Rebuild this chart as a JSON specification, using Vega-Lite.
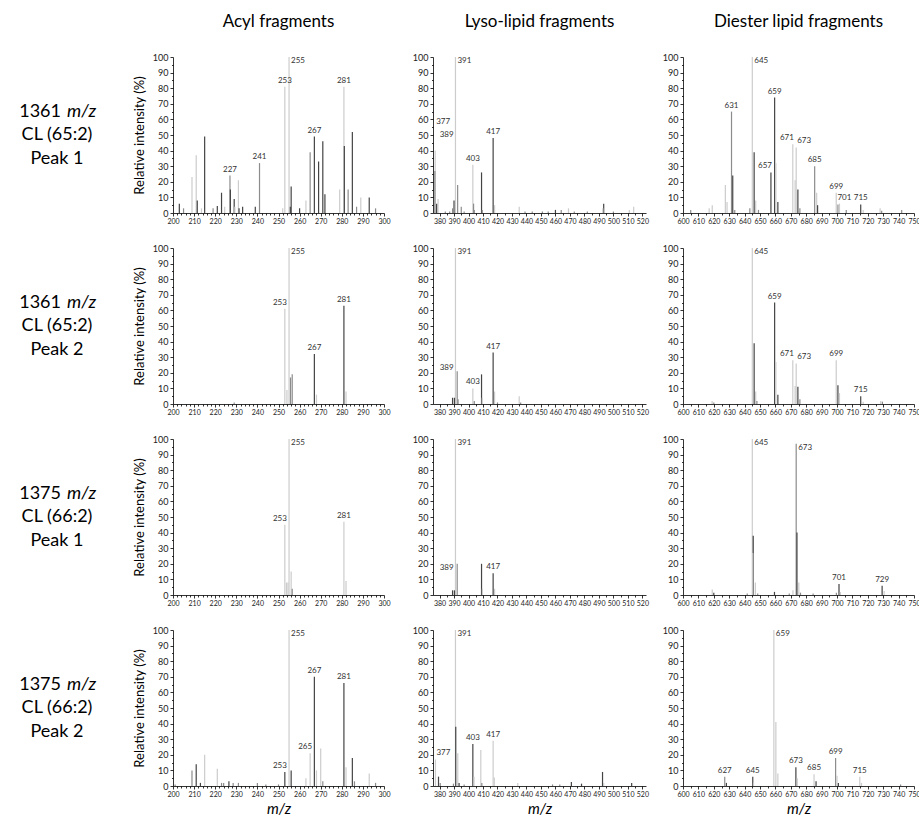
{
"$schema": "https://vega.github.io/schema/vega-lite/v6.json",
"autosize": {"type": "pad"},
"padding": {"left": 0, "top": 13, "right": 0, "bottom": 0},
"background": "white",
"datasets": {
"a1": [{"mz":203,"i":6,"s":"D"},{"mz":205,"i":3,"s":"M"},{"mz":209,"i":23,"s":"L"},{"mz":211,"i":37,"s":"L"},{"mz":211.5,"i":8,"s":"D"},{"mz":213.5,"i":3,"s":"L"},{"mz":215,"i":49,"s":"D"},{"mz":219,"i":3,"s":"M"},{"mz":221,"i":4.5,"s":"D"},{"mz":223,"i":13,"s":"D"},{"mz":224.5,"i":4,"s":"L"},{"mz":227,"i":24,"s":"M","label":"227"},{"mz":227.2,"i":15,"s":"D"},{"mz":229,"i":9,"s":"D"},{"mz":229.3,"i":4,"s":"L"},{"mz":231,"i":21,"s":"L"},{"mz":231.3,"i":3,"s":"D"},{"mz":233,"i":4,"s":"D"},{"mz":239,"i":4,"s":"D"},{"mz":241,"i":32,"s":"M","label":"241"},{"mz":252,"i":3,"s":"L"},{"mz":253,"i":81,"s":"L","label":"253"},{"mz":255,"i":100,"s":"L","label":"255"},{"mz":255.6,"i":4,"s":"D"},{"mz":256,"i":17,"s":"D"},{"mz":260,"i":3,"s":"D"},{"mz":263,"i":8,"s":"L"},{"mz":265,"i":39,"s":"M"},{"mz":267,"i":49,"s":"D","label":"267"},{"mz":269,"i":33,"s":"D"},{"mz":271,"i":46,"s":"D"},{"mz":272,"i":12,"s":"D"},{"mz":279,"i":15,"s":"L"},{"mz":281,"i":81,"s":"L","label":"281"},{"mz":281.2,"i":43,"s":"D"},{"mz":283,"i":15,"s":"M"},{"mz":285,"i":52,"s":"D"},{"mz":287,"i":4,"s":"M"},{"mz":289,"i":10,"s":"L"},{"mz":293,"i":10,"s":"D"},{"mz":296,"i":3,"s":"M"}],
"b1": [{"mz":376.8,"i":27,"s":"M"},{"mz":377,"i":40,"s":"L","label":"377"},{"mz":378,"i":6,"s":"D"},{"mz":379,"i":9,"s":"L"},{"mz":384,"i":1,"s":"M"},{"mz":387,"i":1,"s":"M"},{"mz":389,"i":3,"s":"M","label":"389"},{"mz":390,"i":8,"s":"D"},{"mz":391,"i":100,"s":"L","label":"391"},{"mz":392.5,"i":18,"s":"M"},{"mz":395,"i":4,"s":"M"},{"mz":397,"i":1,"s":"M"},{"mz":403,"i":31,"s":"L","label":"403"},{"mz":403.5,"i":6,"s":"M"},{"mz":404,"i":2,"s":"M"},{"mz":409,"i":26,"s":"D"},{"mz":409.5,"i":2,"s":"M"},{"mz":417,"i":48,"s":"D","label":"417"},{"mz":418,"i":5,"s":"L"},{"mz":435,"i":4,"s":"L"},{"mz":439,"i":1,"s":"M"},{"mz":444,"i":1,"s":"M"},{"mz":451,"i":1,"s":"M"},{"mz":455,"i":1,"s":"M"},{"mz":460,"i":2,"s":"D"},{"mz":464,"i":2,"s":"M"},{"mz":469,"i":3,"s":"L"},{"mz":473,"i":1,"s":"M"},{"mz":482,"i":1,"s":"M"},{"mz":493,"i":3,"s":"M"},{"mz":493.3,"i":6,"s":"D"},{"mz":500,"i":1,"s":"M"},{"mz":511,"i":2,"s":"L"},{"mz":514,"i":4,"s":"L"}],
"c1": [{"mz":605,"i":2,"s":"M"},{"mz":617,"i":3,"s":"L"},{"mz":619,"i":5,"s":"L"},{"mz":627.5,"i":18,"s":"L"},{"mz":628.6,"i":7,"s":"L"},{"mz":631.5,"i":65,"s":"M","label":"631"},{"mz":632.3,"i":24,"s":"D"},{"mz":633.6,"i":2,"s":"M"},{"mz":643.4,"i":3,"s":"M"},{"mz":645,"i":100,"s":"L","label":"645"},{"mz":646.2,"i":39,"s":"D"},{"mz":647.2,"i":8,"s":"L"},{"mz":649,"i":2,"s":"M"},{"mz":657.1,"i":26,"s":"D","label":"657"},{"mz":659.5,"i":74,"s":"D","label":"659"},{"mz":660.3,"i":32,"s":"L"},{"mz":661.6,"i":7,"s":"D"},{"mz":671.3,"i":44,"s":"L","label":"671"},{"mz":672.8,"i":21,"s":"L"},{"mz":673.5,"i":42,"s":"L","label":"673"},{"mz":674.6,"i":15,"s":"D"},{"mz":675.9,"i":3,"s":"M"},{"mz":685.5,"i":30,"s":"M","label":"685"},{"mz":686.8,"i":13,"s":"L"},{"mz":687.4,"i":5,"s":"D"},{"mz":699.5,"i":13,"s":"L","label":"699"},{"mz":700.6,"i":5.5,"s":"M"},{"mz":701.6,"i":6,"s":"L","label":"701"},{"mz":706,"i":2,"s":"M"},{"mz":715.4,"i":5.5,"s":"D","label":"715"},{"mz":717,"i":2,"s":"L"},{"mz":728,"i":3,"s":"L"},{"mz":729,"i":1.5,"s":"M"},{"mz":742,"i":2,"s":"M"}],
"a2": [{"mz":229,"i":1,"s":"M"},{"mz":253,"i":61,"s":"L","label":"253"},{"mz":254,"i":9,"s":"L"},{"mz":255,"i":100,"s":"L","label":"255"},{"mz":255.7,"i":17,"s":"M"},{"mz":256.5,"i":19,"s":"M"},{"mz":267,"i":32,"s":"D","label":"267"},{"mz":268,"i":6,"s":"L"},{"mz":281,"i":63,"s":"D","label":"281"},{"mz":282,"i":8,"s":"L"}],
"b2": [{"mz":389,"i":4,"s":"D","label":"389"},{"mz":390.3,"i":4,"s":"D"},{"mz":391,"i":100,"s":"L","label":"391"},{"mz":392.2,"i":21,"s":"M"},{"mz":392.8,"i":3,"s":"M"},{"mz":403,"i":10,"s":"L","label":"403"},{"mz":404,"i":2,"s":"M"},{"mz":409,"i":19,"s":"D"},{"mz":409.5,"i":4,"s":"L"},{"mz":417,"i":33,"s":"D","label":"417"},{"mz":418,"i":8,"s":"L"},{"mz":420,"i":1,"s":"M"},{"mz":435,"i":5,"s":"L"},{"mz":436,"i":1,"s":"M"}],
"c2": [{"mz":618.9,"i":2,"s":"L"},{"mz":620,"i":1,"s":"M"},{"mz":645,"i":100,"s":"L","label":"645"},{"mz":646.2,"i":39,"s":"D"},{"mz":647.2,"i":8,"s":"L"},{"mz":648,"i":2,"s":"M"},{"mz":659.5,"i":65,"s":"D","label":"659"},{"mz":660.3,"i":27,"s":"L"},{"mz":661.6,"i":6,"s":"D"},{"mz":671.3,"i":28,"s":"L","label":"671"},{"mz":672.8,"i":11.5,"s":"L"},{"mz":673.5,"i":26,"s":"L","label":"673"},{"mz":674.6,"i":11,"s":"D"},{"mz":675.9,"i":3,"s":"M"},{"mz":699.5,"i":28,"s":"L","label":"699"},{"mz":700.6,"i":12,"s":"D"},{"mz":701.6,"i":7,"s":"L"},{"mz":715.4,"i":5,"s":"D","label":"715"},{"mz":717,"i":1.5,"s":"L"},{"mz":728.4,"i":2,"s":"L"},{"mz":729.5,"i":1.5,"s":"M"}],
"a3": [{"mz":253,"i":45,"s":"L","label":"253"},{"mz":253.8,"i":8,"s":"L"},{"mz":254.5,"i":8,"s":"L"},{"mz":255,"i":100,"s":"L","label":"255"},{"mz":256,"i":15,"s":"L"},{"mz":256.5,"i":4,"s":"M"},{"mz":281,"i":47,"s":"L","label":"281"},{"mz":282,"i":9,"s":"L"}],
"b3": [{"mz":389,"i":3,"s":"D","label":"389"},{"mz":390.3,"i":3,"s":"D"},{"mz":391,"i":100,"s":"L","label":"391"},{"mz":392.2,"i":20,"s":"M"},{"mz":409,"i":20,"s":"D"},{"mz":409.6,"i":4,"s":"L"},{"mz":417,"i":14,"s":"D","label":"417"},{"mz":418,"i":4,"s":"L"}],
"c3": [{"mz":619,"i":3.5,"s":"L"},{"mz":620,"i":1.5,"s":"D"},{"mz":641.7,"i":1,"s":"M"},{"mz":645,"i":100,"s":"L","label":"645"},{"mz":645.3,"i":27,"s":"L"},{"mz":645.6,"i":38,"s":"D"},{"mz":647,"i":8,"s":"L"},{"mz":648.5,"i":1,"s":"M"},{"mz":659.4,"i":2,"s":"D"},{"mz":669,"i":1,"s":"M"},{"mz":671.4,"i":3,"s":"L"},{"mz":673.5,"i":97,"s":"M","label":"673"},{"mz":674,"i":40,"s":"D"},{"mz":675.2,"i":8,"s":"L"},{"mz":676.3,"i":1.5,"s":"M"},{"mz":684.5,"i":1,"s":"M"},{"mz":699.6,"i":1.5,"s":"M"},{"mz":701.3,"i":7,"s":"D","label":"701"},{"mz":702.2,"i":2,"s":"L"},{"mz":729.3,"i":6,"s":"D","label":"729"},{"mz":730.6,"i":2.5,"s":"L"}],
"a4": [{"mz":201,"i":1,"s":"M"},{"mz":209,"i":10,"s":"M"},{"mz":211,"i":14,"s":"D"},{"mz":213,"i":2,"s":"D"},{"mz":215,"i":20,"s":"L"},{"mz":221,"i":11,"s":"L"},{"mz":223,"i":2,"s":"M"},{"mz":224,"i":2,"s":"M"},{"mz":226.5,"i":3,"s":"D"},{"mz":228.5,"i":2,"s":"M"},{"mz":231,"i":2,"s":"M"},{"mz":240,"i":2,"s":"M"},{"mz":244,"i":1,"s":"M"},{"mz":250,"i":1,"s":"M"},{"mz":253,"i":9,"s":"D","label":"253"},{"mz":255,"i":100,"s":"L","label":"255"},{"mz":256,"i":10,"s":"D"},{"mz":263,"i":5,"s":"L"},{"mz":265,"i":21,"s":"L","label":"265"},{"mz":267,"i":70,"s":"D","label":"267"},{"mz":268,"i":10,"s":"L"},{"mz":270,"i":24,"s":"L"},{"mz":271,"i":3,"s":"M"},{"mz":281,"i":66,"s":"D","label":"281"},{"mz":282,"i":12,"s":"L"},{"mz":285,"i":18,"s":"D"},{"mz":286,"i":3,"s":"M"},{"mz":293,"i":8,"s":"L"},{"mz":296,"i":2,"s":"M"}],
"b4": [{"mz":377.2,"i":17,"s":"L","label":"377"},{"mz":379.3,"i":6,"s":"D"},{"mz":380.5,"i":2,"s":"M"},{"mz":389.6,"i":1.5,"s":"M"},{"mz":391,"i":100,"s":"L","label":"391"},{"mz":391.2,"i":38,"s":"D"},{"mz":392.6,"i":21,"s":"L"},{"mz":393.5,"i":2,"s":"D"},{"mz":397,"i":1,"s":"M"},{"mz":403,"i":27,"s":"D","label":"403"},{"mz":403.8,"i":6,"s":"L"},{"mz":408.5,"i":23,"s":"L"},{"mz":409.2,"i":2,"s":"M"},{"mz":417,"i":29,"s":"L","label":"417"},{"mz":417.8,"i":5.5,"s":"L"},{"mz":434,"i":2,"s":"L"},{"mz":458,"i":1,"s":"M"},{"mz":463,"i":1,"s":"M"},{"mz":471,"i":2.5,"s":"D"},{"mz":478,"i":1.5,"s":"D"},{"mz":492.5,"i":9,"s":"D"},{"mz":493.3,"i":2,"s":"L"},{"mz":512.6,"i":2,"s":"D"}],
"c4": [{"mz":627.1,"i":6,"s":"M","label":"627"},{"mz":628.2,"i":2,"s":"D"},{"mz":645.3,"i":6,"s":"D","label":"645"},{"mz":645.8,"i":2,"s":"L"},{"mz":659,"i":100,"s":"L","label":"659"},{"mz":660.3,"i":41,"s":"L"},{"mz":661.6,"i":8,"s":"L"},{"mz":673.3,"i":12,"s":"D","label":"673"},{"mz":674.2,"i":5,"s":"L"},{"mz":685.1,"i":7.5,"s":"L","label":"685"},{"mz":686.4,"i":3,"s":"D"},{"mz":699.1,"i":18,"s":"M","label":"699"},{"mz":700,"i":6.5,"s":"L"},{"mz":700.9,"i":2,"s":"D"},{"mz":714.8,"i":6,"s":"L","label":"715"},{"mz":715.9,"i":2,"s":"L"},{"mz":741.3,"i":1,"s":"M"}]
},
"columns": 6,
"spacing": {"row": 35, "column": 0},
"bounds": "flush",
"concat": [
{"width":173,"height":156,"data":{"values":[{"mass":"1361","lipid":"CL (65:2)","peak":"Peak 1"}]},"layer":[
 {"mark":{"type":"text","fontSize":18,"align":"right","dx":-25.5,"dy":-23,"color":"#000"},"encoding":{"text":{"field":"mass"}}},
 {"mark":{"type":"text","fontSize":18,"fontStyle":"italic","align":"left","dx":-19.5,"dy":-23,"color":"#000"},"encoding":{"text":{"value":"m/z"}}},
 {"mark":{"type":"text","fontSize":18,"dx":-29.5,"dy":0,"color":"#000"},"encoding":{"text":{"field":"lipid"}}},
 {"mark":{"type":"text","fontSize":18,"dx":-29.5,"dy":24,"color":"#000"},"encoding":{"text":{"field":"peak"}}}]},
{"width":211,"height":156,"data":{"name":"a1"},"title":{"text":"Acyl fragments"},"layer":[
 {"mark":{"type":"rule","strokeWidth":1.2},"encoding":{
  "x":{"field":"mz","type":"quantitative","scale":{"domain":[200,300],"nice":false,"zero":false},"axis":{"orient":"bottom","values":[200,210,220,230,240,250,260,270,280,290,300],"title":null}},
  "y":{"field":"i","type":"quantitative","scale":{"domain":[0,100],"nice":false},"axis":{"orient":"left","values":[0,10,20,30,40,50,60,70,80,90,100],"title":"Relative intensity (%)"}},
  "y2":{"datum":0},
  "color":{"field":"s","type":"nominal","scale":{"domain":["L","M","D"],"range":["#cccccc","#8c8c8c","#444444"]},"legend":null},
  "order":{"field":"i","sort":"descending"}}},
 {"transform":[{"filter":"datum.label && datum.i < 95"}],"mark":{"type":"text","baseline":"bottom","dy":-2,"fontSize":8,"color":"#333"},"encoding":{
  "x":{"field":"mz","type":"quantitative","axis":{"orient":"bottom","values":[202,204,206,208,212,214,216,218,222,224,226,228,232,234,236,238,242,244,246,248,252,254,256,258,262,264,266,268,272,274,276,278,282,284,286,288,292,294,296,298],"labels":false,"domain":false,"tickSize":2,"title":null}},
  "y":{"field":"i","type":"quantitative","axis":{"orient":"left","values":[5,15,25,35,45,55,65,75,85,95],"labels":false,"domain":false,"tickSize":1.5,"title":null}},
  "text":{"field":"label"}}},
 {"transform":[{"filter":"datum.label && datum.i >= 95"}],"mark":{"type":"text","align":"left","baseline":"top","dx":2,"fontSize":8,"color":"#333"},"encoding":{
  "x":{"field":"mz","type":"quantitative","axis":null},"y":{"field":"i","type":"quantitative","axis":null},"text":{"field":"label"}}}],
 "resolve":{"axis":{"x":"independent","y":"independent"}}},
{"width":49,"height":156,"data":{"values":[]},"mark":"point"},
{"width":213,"height":156,"data":{"name":"b1"},"title":{"text":"Lyso-lipid fragments"},"layer":[
 {"mark":{"type":"rule","strokeWidth":1.2},"encoding":{
  "x":{"field":"mz","type":"quantitative","scale":{"domain":[375.5,522.5],"nice":false,"zero":false},"axis":{"orient":"bottom","values":[380,390,400,410,420,430,440,450,460,470,480,490,500,510,520],"title":null}},
  "y":{"field":"i","type":"quantitative","scale":{"domain":[0,100],"nice":false},"axis":{"orient":"left","values":[0,10,20,30,40,50,60,70,80,90,100],"title":null}},
  "y2":{"datum":0},
  "color":{"field":"s","type":"nominal","scale":{"domain":["L","M","D"],"range":["#cccccc","#8c8c8c","#444444"]},"legend":null},
  "order":{"field":"i","sort":"descending"}}},
 {"transform":[{"filter":"datum.label && datum.i < 95"}],"mark":{"type":"text","baseline":"bottom","fontSize":8,"color":"#333",
   "align":{"expr":"datum.label == '389' ? 'right' : datum.label == '377' ? 'left' : 'center'"},
   "dx":{"expr":"datum.label == '389' ? 1 : datum.label == '377' ? 1 : 0"},
   "dy":{"expr":"datum.label == '389' ? -69 : datum.label == '377' ? -25 : -2"}},"encoding":{
  "x":{"field":"mz","type":"quantitative","axis":{"orient":"bottom","values":[385,395,405,415,425,435,445,455,465,475,485,495,505,515],"labels":false,"domain":false,"tickSize":2,"title":null}},
  "y":{"field":"i","type":"quantitative","axis":{"orient":"left","values":[5,15,25,35,45,55,65,75,85,95],"labels":false,"domain":false,"tickSize":1.5,"title":null}},
  "text":{"field":"label"}}},
 {"transform":[{"filter":"datum.label && datum.i >= 95"}],"mark":{"type":"text","align":"left","baseline":"top","dx":2,"fontSize":8,"color":"#333"},"encoding":{
  "x":{"field":"mz","type":"quantitative","axis":null},"y":{"field":"i","type":"quantitative","axis":null},"text":{"field":"label"}}}],
 "resolve":{"axis":{"x":"independent","y":"independent"}}},
{"width":37,"height":156,"data":{"values":[]},"mark":"point"},
{"width":231,"height":156,"data":{"name":"c1"},"title":{"text":"Diester lipid fragments"},"layer":[
 {"mark":{"type":"rule","strokeWidth":1.2},"encoding":{
  "x":{"field":"mz","type":"quantitative","scale":{"domain":[600,750],"nice":false,"zero":false},"axis":{"orient":"bottom","values":[600,610,620,630,640,650,660,670,680,690,700,710,720,730,740,750],"title":null}},
  "y":{"field":"i","type":"quantitative","scale":{"domain":[0,100],"nice":false},"axis":{"orient":"left","values":[0,10,20,30,40,50,60,70,80,90,100],"title":null}},
  "y2":{"datum":0},
  "color":{"field":"s","type":"nominal","scale":{"domain":["L","M","D"],"range":["#cccccc","#8c8c8c","#444444"]},"legend":null},
  "order":{"field":"i","sort":"descending"}}},
 {"transform":[{"filter":"datum.label && datum.i < 95"}],"mark":{"type":"text","baseline":"bottom","dy":-2,"fontSize":8,"color":"#333",
   "align":{"expr":"indexof(['657','671'], datum.label) >= 0 ? 'right' : indexof(['673','701'], datum.label) >= 0 ? 'left' : 'center'"},
   "dx":{"expr":"indexof(['657','671'], datum.label) >= 0 ? 1 : datum.label == '673' ? 1 : datum.label == '701' ? -2 : 0"}},"encoding":{
  "x":{"field":"mz","type":"quantitative","axis":{"orient":"bottom","values":[605,615,625,635,645,655,665,675,685,695,705,715,725,735,745],"labels":false,"domain":false,"tickSize":2,"title":null}},
  "y":{"field":"i","type":"quantitative","axis":{"orient":"left","values":[5,15,25,35,45,55,65,75,85,95],"labels":false,"domain":false,"tickSize":1.5,"title":null}},
  "text":{"field":"label"}}},
 {"transform":[{"filter":"datum.label && datum.i >= 95"}],"mark":{"type":"text","align":"left","baseline":"top","dx":2,"fontSize":8,"color":"#333"},"encoding":{
  "x":{"field":"mz","type":"quantitative","axis":null},"y":{"field":"i","type":"quantitative","axis":null},"text":{"field":"label"}}}],
 "resolve":{"axis":{"x":"independent","y":"independent"}}},

{"width":173,"height":156,"data":{"values":[{"mass":"1361","lipid":"CL (65:2)","peak":"Peak 2"}]},"layer":[
 {"mark":{"type":"text","fontSize":18,"align":"right","dx":-25.5,"dy":-23,"color":"#000"},"encoding":{"text":{"field":"mass"}}},
 {"mark":{"type":"text","fontSize":18,"fontStyle":"italic","align":"left","dx":-19.5,"dy":-23,"color":"#000"},"encoding":{"text":{"value":"m/z"}}},
 {"mark":{"type":"text","fontSize":18,"dx":-29.5,"dy":0,"color":"#000"},"encoding":{"text":{"field":"lipid"}}},
 {"mark":{"type":"text","fontSize":18,"dx":-29.5,"dy":24,"color":"#000"},"encoding":{"text":{"field":"peak"}}}]},
{"width":211,"height":156,"data":{"name":"a2"},"layer":[
 {"mark":{"type":"rule","strokeWidth":1.2},"encoding":{
  "x":{"field":"mz","type":"quantitative","scale":{"domain":[200,300],"nice":false,"zero":false},"axis":{"orient":"bottom","values":[200,210,220,230,240,250,260,270,280,290,300],"title":null}},
  "y":{"field":"i","type":"quantitative","scale":{"domain":[0,100],"nice":false},"axis":{"orient":"left","values":[0,10,20,30,40,50,60,70,80,90,100],"title":"Relative intensity (%)"}},
  "y2":{"datum":0},
  "color":{"field":"s","type":"nominal","scale":{"domain":["L","M","D"],"range":["#cccccc","#8c8c8c","#444444"]},"legend":null},
  "order":{"field":"i","sort":"descending"}}},
 {"transform":[{"filter":"datum.label && datum.i < 95"}],"mark":{"type":"text","baseline":"bottom","dy":-2,"fontSize":8,"color":"#333",
   "align":{"expr":"datum.label == '253' ? 'right' : 'center'"},"dx":{"expr":"datum.label == '253' ? 2 : 0"}},"encoding":{
  "x":{"field":"mz","type":"quantitative","axis":{"orient":"bottom","values":[202,204,206,208,212,214,216,218,222,224,226,228,232,234,236,238,242,244,246,248,252,254,256,258,262,264,266,268,272,274,276,278,282,284,286,288,292,294,296,298],"labels":false,"domain":false,"tickSize":2,"title":null}},
  "y":{"field":"i","type":"quantitative","axis":{"orient":"left","values":[5,15,25,35,45,55,65,75,85,95],"labels":false,"domain":false,"tickSize":1.5,"title":null}},
  "text":{"field":"label"}}},
 {"transform":[{"filter":"datum.label && datum.i >= 95"}],"mark":{"type":"text","align":"left","baseline":"top","dx":2,"fontSize":8,"color":"#333"},"encoding":{
  "x":{"field":"mz","type":"quantitative","axis":null},"y":{"field":"i","type":"quantitative","axis":null},"text":{"field":"label"}}}],
 "resolve":{"axis":{"x":"independent","y":"independent"}}},
{"width":49,"height":156,"data":{"values":[]},"mark":"point"},
{"width":213,"height":156,"data":{"name":"b2"},"layer":[
 {"mark":{"type":"rule","strokeWidth":1.2},"encoding":{
  "x":{"field":"mz","type":"quantitative","scale":{"domain":[375.5,522.5],"nice":false,"zero":false},"axis":{"orient":"bottom","values":[380,390,400,410,420,430,440,450,460,470,480,490,500,510,520],"title":null}},
  "y":{"field":"i","type":"quantitative","scale":{"domain":[0,100],"nice":false},"axis":{"orient":"left","values":[0,10,20,30,40,50,60,70,80,90,100],"title":null}},
  "y2":{"datum":0},
  "color":{"field":"s","type":"nominal","scale":{"domain":["L","M","D"],"range":["#cccccc","#8c8c8c","#444444"]},"legend":null},
  "order":{"field":"i","sort":"descending"}}},
 {"transform":[{"filter":"datum.label && datum.i < 95"}],"mark":{"type":"text","baseline":"bottom","fontSize":8,"color":"#333",
   "align":{"expr":"datum.label == '389' ? 'right' : 'center'"},"dx":{"expr":"datum.label == '389' ? 1 : 0"},"dy":{"expr":"datum.label == '389' ? -26 : -2"}},"encoding":{
  "x":{"field":"mz","type":"quantitative","axis":{"orient":"bottom","values":[385,395,405,415,425,435,445,455,465,475,485,495,505,515],"labels":false,"domain":false,"tickSize":2,"title":null}},
  "y":{"field":"i","type":"quantitative","axis":{"orient":"left","values":[5,15,25,35,45,55,65,75,85,95],"labels":false,"domain":false,"tickSize":1.5,"title":null}},
  "text":{"field":"label"}}},
 {"transform":[{"filter":"datum.label && datum.i >= 95"}],"mark":{"type":"text","align":"left","baseline":"top","dx":2,"fontSize":8,"color":"#333"},"encoding":{
  "x":{"field":"mz","type":"quantitative","axis":null},"y":{"field":"i","type":"quantitative","axis":null},"text":{"field":"label"}}}],
 "resolve":{"axis":{"x":"independent","y":"independent"}}},
{"width":37,"height":156,"data":{"values":[]},"mark":"point"},
{"width":231,"height":156,"data":{"name":"c2"},"layer":[
 {"mark":{"type":"rule","strokeWidth":1.2},"encoding":{
  "x":{"field":"mz","type":"quantitative","scale":{"domain":[600,750],"nice":false,"zero":false},"axis":{"orient":"bottom","values":[600,610,620,630,640,650,660,670,680,690,700,710,720,730,740,750],"title":null}},
  "y":{"field":"i","type":"quantitative","scale":{"domain":[0,100],"nice":false},"axis":{"orient":"left","values":[0,10,20,30,40,50,60,70,80,90,100],"title":null}},
  "y2":{"datum":0},
  "color":{"field":"s","type":"nominal","scale":{"domain":["L","M","D"],"range":["#cccccc","#8c8c8c","#444444"]},"legend":null},
  "order":{"field":"i","sort":"descending"}}},
 {"transform":[{"filter":"datum.label && datum.i < 95"}],"mark":{"type":"text","baseline":"bottom","dy":-2,"fontSize":8,"color":"#333",
   "align":{"expr":"datum.label == '671' ? 'right' : datum.label == '673' ? 'left' : 'center'"},"dx":{"expr":"datum.label == '671' ? 1 : datum.label == '673' ? 1 : 0"}},"encoding":{
  "x":{"field":"mz","type":"quantitative","axis":{"orient":"bottom","values":[605,615,625,635,645,655,665,675,685,695,705,715,725,735,745],"labels":false,"domain":false,"tickSize":2,"title":null}},
  "y":{"field":"i","type":"quantitative","axis":{"orient":"left","values":[5,15,25,35,45,55,65,75,85,95],"labels":false,"domain":false,"tickSize":1.5,"title":null}},
  "text":{"field":"label"}}},
 {"transform":[{"filter":"datum.label && datum.i >= 95"}],"mark":{"type":"text","align":"left","baseline":"top","dx":2,"fontSize":8,"color":"#333"},"encoding":{
  "x":{"field":"mz","type":"quantitative","axis":null},"y":{"field":"i","type":"quantitative","axis":null},"text":{"field":"label"}}}],
 "resolve":{"axis":{"x":"independent","y":"independent"}}},

{"width":173,"height":156,"data":{"values":[{"mass":"1375","lipid":"CL (66:2)","peak":"Peak 1"}]},"layer":[
 {"mark":{"type":"text","fontSize":18,"align":"right","dx":-25.5,"dy":-23,"color":"#000"},"encoding":{"text":{"field":"mass"}}},
 {"mark":{"type":"text","fontSize":18,"fontStyle":"italic","align":"left","dx":-19.5,"dy":-23,"color":"#000"},"encoding":{"text":{"value":"m/z"}}},
 {"mark":{"type":"text","fontSize":18,"dx":-29.5,"dy":0,"color":"#000"},"encoding":{"text":{"field":"lipid"}}},
 {"mark":{"type":"text","fontSize":18,"dx":-29.5,"dy":24,"color":"#000"},"encoding":{"text":{"field":"peak"}}}]},
{"width":211,"height":156,"data":{"name":"a3"},"layer":[
 {"mark":{"type":"rule","strokeWidth":1.2},"encoding":{
  "x":{"field":"mz","type":"quantitative","scale":{"domain":[200,300],"nice":false,"zero":false},"axis":{"orient":"bottom","values":[200,210,220,230,240,250,260,270,280,290,300],"title":null}},
  "y":{"field":"i","type":"quantitative","scale":{"domain":[0,100],"nice":false},"axis":{"orient":"left","values":[0,10,20,30,40,50,60,70,80,90,100],"title":"Relative intensity (%)"}},
  "y2":{"datum":0},
  "color":{"field":"s","type":"nominal","scale":{"domain":["L","M","D"],"range":["#cccccc","#8c8c8c","#444444"]},"legend":null},
  "order":{"field":"i","sort":"descending"}}},
 {"transform":[{"filter":"datum.label && datum.i < 95"}],"mark":{"type":"text","baseline":"bottom","dy":-2,"fontSize":8,"color":"#333",
   "align":{"expr":"datum.label == '253' ? 'right' : 'center'"},"dx":{"expr":"datum.label == '253' ? 2 : 0"}},"encoding":{
  "x":{"field":"mz","type":"quantitative","axis":{"orient":"bottom","values":[202,204,206,208,212,214,216,218,222,224,226,228,232,234,236,238,242,244,246,248,252,254,256,258,262,264,266,268,272,274,276,278,282,284,286,288,292,294,296,298],"labels":false,"domain":false,"tickSize":2,"title":null}},
  "y":{"field":"i","type":"quantitative","axis":{"orient":"left","values":[5,15,25,35,45,55,65,75,85,95],"labels":false,"domain":false,"tickSize":1.5,"title":null}},
  "text":{"field":"label"}}},
 {"transform":[{"filter":"datum.label && datum.i >= 95"}],"mark":{"type":"text","align":"left","baseline":"top","dx":2,"fontSize":8,"color":"#333"},"encoding":{
  "x":{"field":"mz","type":"quantitative","axis":null},"y":{"field":"i","type":"quantitative","axis":null},"text":{"field":"label"}}}],
 "resolve":{"axis":{"x":"independent","y":"independent"}}},
{"width":49,"height":156,"data":{"values":[]},"mark":"point"},
{"width":213,"height":156,"data":{"name":"b3"},"layer":[
 {"mark":{"type":"rule","strokeWidth":1.2},"encoding":{
  "x":{"field":"mz","type":"quantitative","scale":{"domain":[375.5,522.5],"nice":false,"zero":false},"axis":{"orient":"bottom","values":[380,390,400,410,420,430,440,450,460,470,480,490,500,510,520],"title":null}},
  "y":{"field":"i","type":"quantitative","scale":{"domain":[0,100],"nice":false},"axis":{"orient":"left","values":[0,10,20,30,40,50,60,70,80,90,100],"title":null}},
  "y2":{"datum":0},
  "color":{"field":"s","type":"nominal","scale":{"domain":["L","M","D"],"range":["#cccccc","#8c8c8c","#444444"]},"legend":null},
  "order":{"field":"i","sort":"descending"}}},
 {"transform":[{"filter":"datum.label && datum.i < 95"}],"mark":{"type":"text","baseline":"bottom","fontSize":8,"color":"#333",
   "align":{"expr":"datum.label == '389' ? 'right' : 'center'"},"dx":{"expr":"datum.label == '389' ? 1 : 0"},"dy":{"expr":"datum.label == '389' ? -18 : -2"}},"encoding":{
  "x":{"field":"mz","type":"quantitative","axis":{"orient":"bottom","values":[385,395,405,415,425,435,445,455,465,475,485,495,505,515],"labels":false,"domain":false,"tickSize":2,"title":null}},
  "y":{"field":"i","type":"quantitative","axis":{"orient":"left","values":[5,15,25,35,45,55,65,75,85,95],"labels":false,"domain":false,"tickSize":1.5,"title":null}},
  "text":{"field":"label"}}},
 {"transform":[{"filter":"datum.label && datum.i >= 95"}],"mark":{"type":"text","align":"left","baseline":"top","dx":2,"fontSize":8,"color":"#333"},"encoding":{
  "x":{"field":"mz","type":"quantitative","axis":null},"y":{"field":"i","type":"quantitative","axis":null},"text":{"field":"label"}}}],
 "resolve":{"axis":{"x":"independent","y":"independent"}}},
{"width":37,"height":156,"data":{"values":[]},"mark":"point"},
{"width":231,"height":156,"data":{"name":"c3"},"layer":[
 {"mark":{"type":"rule","strokeWidth":1.2},"encoding":{
  "x":{"field":"mz","type":"quantitative","scale":{"domain":[600,750],"nice":false,"zero":false},"axis":{"orient":"bottom","values":[600,610,620,630,640,650,660,670,680,690,700,710,720,730,740,750],"title":null}},
  "y":{"field":"i","type":"quantitative","scale":{"domain":[0,100],"nice":false},"axis":{"orient":"left","values":[0,10,20,30,40,50,60,70,80,90,100],"title":null}},
  "y2":{"datum":0},
  "color":{"field":"s","type":"nominal","scale":{"domain":["L","M","D"],"range":["#cccccc","#8c8c8c","#444444"]},"legend":null},
  "order":{"field":"i","sort":"descending"}}},
 {"transform":[{"filter":"datum.label && datum.i < 95"}],"mark":{"type":"text","baseline":"bottom","dy":-2,"fontSize":8,"color":"#333"},"encoding":{
  "x":{"field":"mz","type":"quantitative","axis":{"orient":"bottom","values":[605,615,625,635,645,655,665,675,685,695,705,715,725,735,745],"labels":false,"domain":false,"tickSize":2,"title":null}},
  "y":{"field":"i","type":"quantitative","axis":{"orient":"left","values":[5,15,25,35,45,55,65,75,85,95],"labels":false,"domain":false,"tickSize":1.5,"title":null}},
  "text":{"field":"label"}}},
 {"transform":[{"filter":"datum.label && datum.i >= 95"}],"mark":{"type":"text","align":"left","baseline":"top","dx":2,"fontSize":8,"color":"#333"},"encoding":{
  "x":{"field":"mz","type":"quantitative","axis":null},"y":{"field":"i","type":"quantitative","axis":null},"text":{"field":"label"}}}],
 "resolve":{"axis":{"x":"independent","y":"independent"}}},

{"width":173,"height":156,"data":{"values":[{"mass":"1375","lipid":"CL (66:2)","peak":"Peak 2"}]},"layer":[
 {"mark":{"type":"text","fontSize":18,"align":"right","dx":-25.5,"dy":-23,"color":"#000"},"encoding":{"text":{"field":"mass"}}},
 {"mark":{"type":"text","fontSize":18,"fontStyle":"italic","align":"left","dx":-19.5,"dy":-23,"color":"#000"},"encoding":{"text":{"value":"m/z"}}},
 {"mark":{"type":"text","fontSize":18,"dx":-29.5,"dy":0,"color":"#000"},"encoding":{"text":{"field":"lipid"}}},
 {"mark":{"type":"text","fontSize":18,"dx":-29.5,"dy":24,"color":"#000"},"encoding":{"text":{"field":"peak"}}}]},
{"width":211,"height":156,"data":{"name":"a4"},"layer":[
 {"mark":{"type":"rule","strokeWidth":1.2},"encoding":{
  "x":{"field":"mz","type":"quantitative","scale":{"domain":[200,300],"nice":false,"zero":false},"axis":{"orient":"bottom","values":[200,210,220,230,240,250,260,270,280,290,300],"title":"m/z","titleFontStyle":"italic","titleFontSize":15,"titlePadding":4}},
  "y":{"field":"i","type":"quantitative","scale":{"domain":[0,100],"nice":false},"axis":{"orient":"left","values":[0,10,20,30,40,50,60,70,80,90,100],"title":"Relative intensity (%)"}},
  "y2":{"datum":0},
  "color":{"field":"s","type":"nominal","scale":{"domain":["L","M","D"],"range":["#cccccc","#8c8c8c","#444444"]},"legend":null},
  "order":{"field":"i","sort":"descending"}}},
 {"transform":[{"filter":"datum.label && datum.i < 95"}],"mark":{"type":"text","baseline":"bottom","dy":-2,"fontSize":8,"color":"#333",
   "align":{"expr":"indexof(['253','265'], datum.label) >= 0 ? 'right' : 'center'"},"dx":{"expr":"indexof(['253','265'], datum.label) >= 0 ? 2 : 0"}},"encoding":{
  "x":{"field":"mz","type":"quantitative","axis":{"orient":"bottom","values":[202,204,206,208,212,214,216,218,222,224,226,228,232,234,236,238,242,244,246,248,252,254,256,258,262,264,266,268,272,274,276,278,282,284,286,288,292,294,296,298],"labels":false,"domain":false,"tickSize":2,"title":null}},
  "y":{"field":"i","type":"quantitative","axis":{"orient":"left","values":[5,15,25,35,45,55,65,75,85,95],"labels":false,"domain":false,"tickSize":1.5,"title":null}},
  "text":{"field":"label"}}},
 {"transform":[{"filter":"datum.label && datum.i >= 95"}],"mark":{"type":"text","align":"left","baseline":"top","dx":2,"fontSize":8,"color":"#333"},"encoding":{
  "x":{"field":"mz","type":"quantitative","axis":null},"y":{"field":"i","type":"quantitative","axis":null},"text":{"field":"label"}}}],
 "resolve":{"axis":{"x":"independent","y":"independent"}}},
{"width":49,"height":156,"data":{"values":[]},"mark":"point"},
{"width":213,"height":156,"data":{"name":"b4"},"layer":[
 {"mark":{"type":"rule","strokeWidth":1.2},"encoding":{
  "x":{"field":"mz","type":"quantitative","scale":{"domain":[375.5,522.5],"nice":false,"zero":false},"axis":{"orient":"bottom","values":[380,390,400,410,420,430,440,450,460,470,480,490,500,510,520],"title":"m/z","titleFontStyle":"italic","titleFontSize":15,"titlePadding":4}},
  "y":{"field":"i","type":"quantitative","scale":{"domain":[0,100],"nice":false},"axis":{"orient":"left","values":[0,10,20,30,40,50,60,70,80,90,100],"title":null}},
  "y2":{"datum":0},
  "color":{"field":"s","type":"nominal","scale":{"domain":["L","M","D"],"range":["#cccccc","#8c8c8c","#444444"]},"legend":null},
  "order":{"field":"i","sort":"descending"}}},
 {"transform":[{"filter":"datum.label && datum.i < 95"}],"mark":{"type":"text","baseline":"bottom","dy":-2,"fontSize":8,"color":"#333",
   "align":{"expr":"datum.label == '377' ? 'left' : 'center'"},"dx":{"expr":"datum.label == '377' ? 1 : 0"}},"encoding":{
  "x":{"field":"mz","type":"quantitative","axis":{"orient":"bottom","values":[385,395,405,415,425,435,445,455,465,475,485,495,505,515],"labels":false,"domain":false,"tickSize":2,"title":null}},
  "y":{"field":"i","type":"quantitative","axis":{"orient":"left","values":[5,15,25,35,45,55,65,75,85,95],"labels":false,"domain":false,"tickSize":1.5,"title":null}},
  "text":{"field":"label"}}},
 {"transform":[{"filter":"datum.label && datum.i >= 95"}],"mark":{"type":"text","align":"left","baseline":"top","dx":2,"fontSize":8,"color":"#333"},"encoding":{
  "x":{"field":"mz","type":"quantitative","axis":null},"y":{"field":"i","type":"quantitative","axis":null},"text":{"field":"label"}}}],
 "resolve":{"axis":{"x":"independent","y":"independent"}}},
{"width":37,"height":156,"data":{"values":[]},"mark":"point"},
{"width":231,"height":156,"data":{"name":"c4"},"layer":[
 {"mark":{"type":"rule","strokeWidth":1.2},"encoding":{
  "x":{"field":"mz","type":"quantitative","scale":{"domain":[600,750],"nice":false,"zero":false},"axis":{"orient":"bottom","values":[600,610,620,630,640,650,660,670,680,690,700,710,720,730,740,750],"title":"m/z","titleFontStyle":"italic","titleFontSize":15,"titlePadding":4}},
  "y":{"field":"i","type":"quantitative","scale":{"domain":[0,100],"nice":false},"axis":{"orient":"left","values":[0,10,20,30,40,50,60,70,80,90,100],"title":null}},
  "y2":{"datum":0},
  "color":{"field":"s","type":"nominal","scale":{"domain":["L","M","D"],"range":["#cccccc","#8c8c8c","#444444"]},"legend":null},
  "order":{"field":"i","sort":"descending"}}},
 {"transform":[{"filter":"datum.label && datum.i < 95"}],"mark":{"type":"text","baseline":"bottom","dy":-2,"fontSize":8,"color":"#333"},"encoding":{
  "x":{"field":"mz","type":"quantitative","axis":{"orient":"bottom","values":[605,615,625,635,645,655,665,675,685,695,705,715,725,735,745],"labels":false,"domain":false,"tickSize":2,"title":null}},
  "y":{"field":"i","type":"quantitative","axis":{"orient":"left","values":[5,15,25,35,45,55,65,75,85,95],"labels":false,"domain":false,"tickSize":1.5,"title":null}},
  "text":{"field":"label"}}},
 {"transform":[{"filter":"datum.label && datum.i >= 95"}],"mark":{"type":"text","align":"left","baseline":"top","dx":2,"fontSize":8,"color":"#333"},"encoding":{
  "x":{"field":"mz","type":"quantitative","axis":null},"y":{"field":"i","type":"quantitative","axis":null},"text":{"field":"label"}}}],
 "resolve":{"axis":{"x":"independent","y":"independent"}}}
],
"config": {
 "view": {"stroke": null},
 "font": "Lato",
 "axis": {"labelFont":"Lato","labelColor":"#222","tickColor":"#000","domainColor":"#000","grid":false,"titleFont":"Lato","titleFontWeight":"normal","titleColor":"#000","tickWidth":0.8,"domainWidth":0.8},
 "axisX": {"labelFontSize":7,"tickSize":3,"labelPadding":1,"labelOverlap":false,"labelFlush":false,"labelAngle":0},
 "axisY": {"labelFontSize":9,"tickSize":3,"labelPadding":2,"titleFontSize":13,"titlePadding":6},
 "title": {"font":"Lato","fontSize":17,"fontWeight":"normal","color":"#000","offset":22,"frame":"group","anchor":"middle"},
 "text": {"font":"Lato"}
}
}
